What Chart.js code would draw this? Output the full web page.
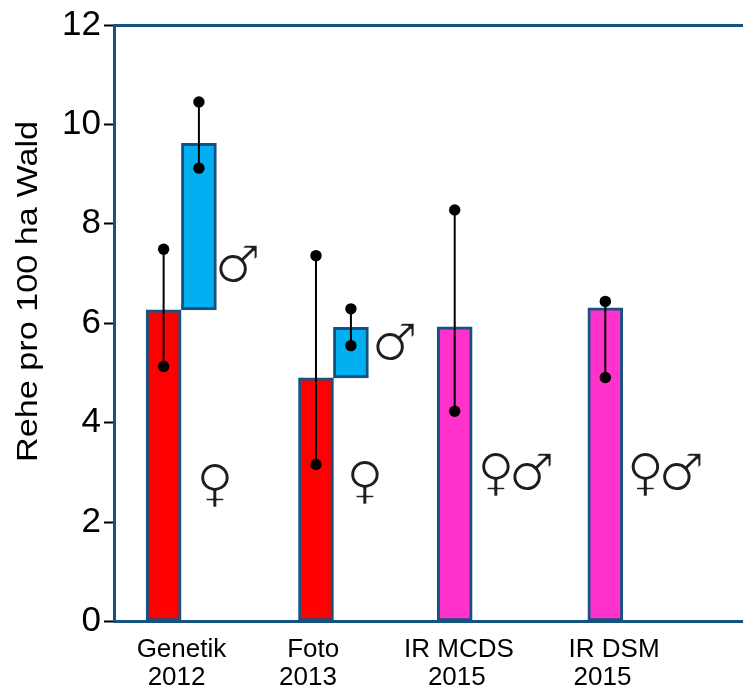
<!DOCTYPE html>
<html>
<head>
<meta charset="utf-8">
<script src="https://cdn.jsdelivr.net/npm/chart.js@4.4.1/dist/chart.umd.min.js"></script>
<style>
  html, body { margin: 0; padding: 0; background: #ffffff; overflow: hidden; }
  #wrap { width: 743px; height: 689px; position: relative; }
  canvas { display: block; }
</style>
</head>
<body>
<div id="wrap"><canvas id="c"></canvas></div>
<script>
// Rehdichte nach Erhebungsmethode (Rehe pro 100 ha Wald)
const methods = ['Genetik', 'Foto', 'IR MCDS', 'IR DSM'];
const years = ['2012', '2013', '2015', '2015'];
const yTicks = [0, 2, 4, 6, 8, 10, 12];
const yTitle = 'Rehe pro 100 ha Wald';

// Genetik 2012 and Foto 2013: females and males estimated separately
const femaleDensity = [6.27, 4.90];
const maleDensity = [3.35, 1.02];   // male bar is stacked onto the female bar
const femaleLow = [5.13, 3.16];
const femaleHigh = [7.49, 7.36];
const maleLow = [9.12, 5.55];
const maleHigh = [10.45, 6.29];

// IR MCDS 2015 and IR DSM 2015: both sexes together
const totalDensity = [5.93, 6.31];
const totalLow = [4.23, 4.91];
const totalHigh = [8.28, 6.44];

// ---- layout (x positions in bar-width units along a 0..18 axis) ----
const X_MAX = 18;
const femaleSlot = [1.42, 5.78];
const maleSlot = [2.43, 6.78];
const totalSlot = [9.75, 14.06];
const methodLabelSlot = [1.93, 5.70, 9.87, 14.31];
const yearLabelSlot = [1.79, 5.55, 9.81, 13.98];
const sexMarks = [
  { text: '\u2640', x: 2.89, y: 2.74 },
  { text: '\u2642', x: 3.55, y: 7.20 },
  { text: '\u2640', x: 7.18, y: 2.80 },
  { text: '\u2642', x: 8.04, y: 5.63 },
  { text: '\u2640', x: 10.93, y: 2.95 },
  { text: '\u2642', x: 11.96, y: 3.02 },
  { text: '\u2640', x: 15.21, y: 2.95 },
  { text: '\u2642', x: 16.25, y: 3.02 }
];
const SYMBOL_HEIGHT = 45;   // glyph height of the female sign in px
const SYMBOL_THIN = 1.5;    // white outline width that slims the symbol strokes

const FONT = '"Liberation Sans", Arial, Helvetica, sans-serif';
const SYMBOL_FONT = '"DejaVu Sans", sans-serif';
const EDGE = '#15527f';
const RED = '#ff0000';
const BLUE = '#00b0f0';
const MAGENTA = '#ff33cc';

const barStyle = {
  type: 'bar',
  borderColor: EDGE,
  borderWidth: 3,
  borderSkipped: false,
  barThickness: 35,
  grouped: false,
  order: 2
};

const femaleBars = femaleDensity.map((v, i) => ({ x: femaleSlot[i], y: [0, v] }));
const maleBars = maleDensity.map((v, i) => ({ x: maleSlot[i], y: [femaleDensity[i], femaleDensity[i] + v] }));
const totalBars = totalDensity.map((v, i) => ({ x: totalSlot[i], y: [0, v] }));

const ranges = [
  ...femaleLow.map((lo, i) => ({ x: femaleSlot[i], lo, hi: femaleHigh[i] })),
  ...maleLow.map((lo, i) => ({ x: maleSlot[i], lo, hi: maleHigh[i] })),
  ...totalLow.map((lo, i) => ({ x: totalSlot[i], lo, hi: totalHigh[i] }))
];

const rangeSets = ranges.map(r => ({
  type: 'line',
  data: [{ x: r.x, y: r.lo }, { x: r.x, y: r.hi }],
  borderColor: '#000000',
  borderWidth: 2,
  pointRadius: 5.7,
  pointBackgroundColor: '#000000',
  pointBorderWidth: 0,
  fill: false,
  order: 0
}));

// Sex symbols next to the bars and the rotated y-axis title
const annotate = {
  id: 'annotate',
  afterDatasetsDraw(chart) {
    const { ctx } = chart;
    const xs = chart.scales.x, ys = chart.scales.y;
    ctx.save();
    ctx.textAlign = 'left';
    ctx.textBaseline = 'alphabetic';
    ctx.font = '100px ' + SYMBOL_FONT;
    const ref = ctx.measureText('\u2640');
    const size = 100 * SYMBOL_HEIGHT / (ref.actualBoundingBoxAscent + ref.actualBoundingBoxDescent);
    ctx.font = size.toFixed(1) + 'px ' + SYMBOL_FONT;
    ctx.lineJoin = 'round';
    ctx.lineWidth = SYMBOL_THIN;
    ctx.strokeStyle = '#ffffff';
    ctx.fillStyle = '#1e1e1e';
    sexMarks.forEach(m => {
      const px = xs.getPixelForValue(m.x);
      const py = ys.getPixelForValue(m.y);
      const mt = ctx.measureText(m.text);
      const w = mt.actualBoundingBoxLeft + mt.actualBoundingBoxRight;
      const tx = px - w / 2 + mt.actualBoundingBoxLeft;
      const ty = py + (mt.actualBoundingBoxAscent - mt.actualBoundingBoxDescent) / 2;
      ctx.fillText(m.text, tx, ty);
      ctx.strokeText(m.text, tx, ty);
    });
    ctx.restore();

    ctx.save();
    ctx.fillStyle = '#000000';
    ctx.font = '29px ' + FONT;
    ctx.textAlign = 'center';
    ctx.textBaseline = 'alphabetic';
    ctx.translate(28.5, 291.5);
    ctx.rotate(-Math.PI / 2);
    ctx.scale(1.18, 1);
    const mt = ctx.measureText(yTitle);
    ctx.fillText(yTitle, 0, (mt.actualBoundingBoxAscent - mt.actualBoundingBoxDescent) / 2);
    ctx.restore();
  }
};

new Chart(document.getElementById('c'), {
  type: 'bar',
  data: {
    datasets: [
      { ...barStyle, label: 'Weibchen', data: femaleBars, backgroundColor: RED },
      { ...barStyle, label: 'Männchen', data: maleBars, backgroundColor: BLUE },
      { ...barStyle, label: 'beide Geschlechter', data: totalBars, backgroundColor: MAGENTA },
      ...rangeSets
    ]
  },
  options: {
    responsive: true,
    maintainAspectRatio: false,
    animation: false,
    events: [],
    layout: { autoPadding: false, padding: { top: 25, left: 0, right: 0, bottom: 0 } },
    plugins: { legend: { display: false }, tooltip: { enabled: false }, title: { display: false } },
    scales: {
      x: {
        type: 'linear', position: 'bottom', min: 0, max: X_MAX, offset: false, weight: 0,
        afterBuildTicks: s => { s.ticks = methodLabelSlot.map(v => ({ value: v })); },
        afterFit: s => { s.height = 38; },
        ticks: {
          autoSkip: false, maxRotation: 0, minRotation: 0, padding: 12.4,
          color: '#000000', font: { family: FONT, size: 26 },
          callback: (v, i) => methods[i]
        },
        grid: { display: false, drawTicks: false },
        border: { display: true, color: EDGE, width: 3 }
      },
      x2: {
        type: 'linear', position: 'bottom', min: 0, max: X_MAX, offset: false, weight: 1,
        afterBuildTicks: s => { s.ticks = yearLabelSlot.map(v => ({ value: v })); },
        afterFit: s => { s.height = 29.5; },
        ticks: {
          autoSkip: false, maxRotation: 0, minRotation: 0, padding: 3.1,
          color: '#000000', font: { family: FONT, size: 26 },
          callback: (v, i) => years[i]
        },
        grid: { display: false, drawTicks: false },
        border: { display: false }
      },
      xTop: {
        type: 'linear', position: 'top', min: 0, max: X_MAX, offset: false,
        afterFit: s => { s.height = 0; },
        ticks: { display: false },
        grid: { display: false, drawTicks: false },
        border: { display: true, color: EDGE, width: 3 }
      },
      y: {
        type: 'linear', position: 'left', min: 0, max: 12,
        afterBuildTicks: s => { s.ticks = yTicks.map(v => ({ value: v })); },
        afterFit: s => { s.width = 114; },
        ticks: { padding: 3, color: '#000000', font: { family: FONT, size: 35 } },
        grid: { display: true, drawOnChartArea: false, drawTicks: true, tickLength: 10, tickColor: '#000000', tickWidth: 2 },
        border: { display: true, color: EDGE, width: 3 }
      }
    }
  },
  plugins: [annotate]
});
</script>
</body>
</html>
